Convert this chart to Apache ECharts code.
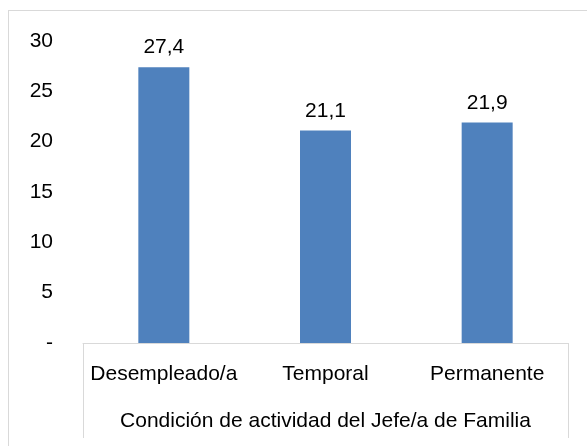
<!DOCTYPE html>
<html>
<head>
<meta charset="utf-8">
<script src="https://cdn.jsdelivr.net/npm/echarts@6/dist/echarts.min.js"></script>
<style>
  html, body { margin: 0; padding: 0; background: #fff; }
  #frame { position: absolute; left: 8px; top: 10px; width: 600px; height: 460px;
           border-left: 1px solid #d9d9d9; border-top: 1px solid #d9d9d9; }
  #chart { position: absolute; left: 0; top: 0; width: 587px; height: 446px; }
</style>
</head>
<body>
<div id="frame"></div>
<div id="chart"></div>
<script>
// datos
var categorias = ['Desempleado/a', 'Temporal', 'Permanente'];
var valores = [27.4, 21.1, 21.9];
var tituloEje = 'Condición de actividad del Jefe/a de Familia';

var fuente = "'Liberation Sans Narrow', 'Arial Narrow', 'Liberation Sans', sans-serif";
var tam = 21;

var chart = echarts.init(document.getElementById('chart'));
chart.setOption({
  animation: false,
  textStyle: { fontFamily: fuente },
  grid: { left: 83, right: 19, top: 41, bottom: 103 },
  xAxis: [
    {
      type: 'category',
      data: categorias,
      axisLine: { lineStyle: { color: '#d9d9d9' } },
      axisTick: { show: false },
      axisLabel: { color: '#000', fontSize: tam, margin: 21, interval: 0, fontFamily: fuente }
    },
    {
      // nivel exterior de la categoria (como Excel)
      type: 'category',
      position: 'bottom',
      data: [tituloEje],
      axisLine: { show: false },
      axisTick: { show: true, length: 95, lineStyle: { color: '#d9d9d9' } },
      axisLabel: { color: '#000', fontSize: tam, margin: 68, interval: 0, fontFamily: fuente }
    }
  ],
  yAxis: {
    type: 'value',
    min: 0,
    max: 30,
    interval: 5,
    splitLine: { show: false },
    axisLine: { show: false },
    axisTick: { show: false },
    axisLabel: {
      color: '#000', fontSize: tam, margin: 30, fontFamily: fuente,
      formatter: function (v) { return v === 0 ? '-' : v; }
    }
  },
  series: [{
    type: 'bar',
    data: valores,
    barWidth: 51,
    itemStyle: { color: '#4f81bd' },
    label: {
      show: true,
      position: 'top',
      distance: 9,
      color: '#000',
      fontSize: tam,
      fontFamily: fuente,
      formatter: function (p) { return p.value.toFixed(1).replace('.', ','); }
    }
  }]
});
</script>
</body>
</html>
